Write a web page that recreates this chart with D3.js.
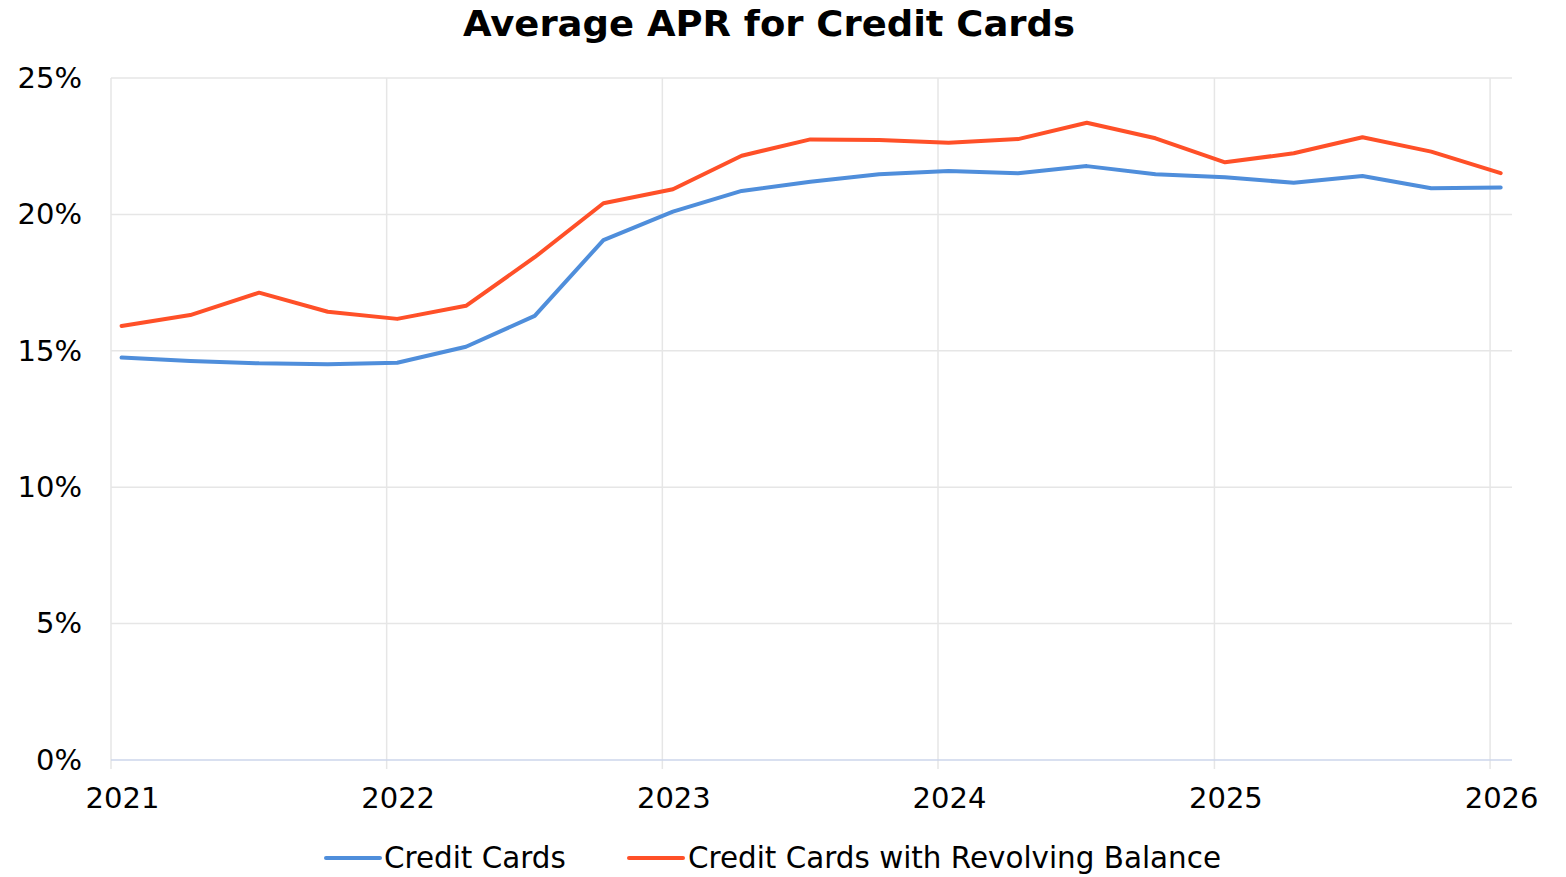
<!DOCTYPE html>
<html>
<head>
<meta charset="utf-8">
<script src="https://cdn.jsdelivr.net/npm/d3@7"></script>
<style>
  html, body { margin: 0; padding: 0; background: #fff; }
  svg { display: block; font-family: "DejaVu Sans", Verdana, sans-serif; }
</style>
</head>
<body>
<svg id="chart" width="1566" height="877"></svg>
<script>
const title = "Average APR for Credit Cards";
const dates = [
  "2021-01-15","2021-04-16","2021-07-16","2021-10-15",
  "2022-01-15","2022-04-16","2022-07-16","2022-10-15",
  "2023-01-15","2023-04-16","2023-07-16","2023-10-15",
  "2024-01-15","2024-04-16","2024-07-16","2024-10-15",
  "2025-01-15","2025-04-16","2025-07-16","2025-10-15",
  "2026-01-15"
];
const creditCards = [14.75,14.63,14.54,14.51,14.56,15.15,16.28,19.06,20.10,20.86,21.20,21.47,21.59,21.51,21.77,21.47,21.36,21.16,21.41,20.96,20.99];
const revolving = [15.91,16.31,17.13,16.43,16.17,16.65,18.43,20.41,20.92,22.15,22.75,22.73,22.63,22.76,23.36,22.79,21.91,22.24,22.83,22.30,21.51];
const seriesNames = ["Credit Cards", "Credit Cards with Revolving Balance"];
const seriesColors = ["#4f8edb", "#ff5028"];
const yTicks = [0, 5, 10, 15, 20, 25];
const xTickYears = [2021, 2022, 2023, 2024, 2025, 2026];

const svg = d3.select("#chart");
const W = 1566, H = 877;
const margin = {left: 111, right: 54, top: 78, bottom: 117};
const parse = d3.timeParse("%Y-%m-%d");

const x = d3.scaleTime()
  .domain([new Date(2021, 0, 1), new Date(2026, 0, 30)])
  .range([margin.left, W - margin.right]);
const y = d3.scaleLinear()
  .domain([0, 25])
  .range([H - margin.bottom, margin.top]);

// title
svg.append("text")
  .attr("x", 769).attr("y", 36)
  .attr("text-anchor", "middle")
  .attr("font-size", 35).attr("font-weight", "bold")
  .attr("textLength", 612).attr("lengthAdjust", "spacingAndGlyphs")
  .attr("fill", "#000")
  .text(title);

// horizontal grid
svg.append("g").selectAll("line").data(yTicks.filter(d => d > 0)).join("line")
  .attr("x1", margin.left).attr("x2", W - margin.right)
  .attr("y1", d => y(d)).attr("y2", d => y(d))
  .attr("stroke", "#e6e6e6").attr("stroke-width", 1.5);

// vertical grid
const xTickDates = xTickYears.map(yr => new Date(yr, 0, 1));
svg.append("g").selectAll("line").data(xTickDates).join("line")
  .attr("x1", d => x(d)).attr("x2", d => x(d))
  .attr("y1", margin.top).attr("y2", H - margin.bottom + 9)
  .attr("stroke", "#e6e6e6").attr("stroke-width", 1.5);

// x axis line
svg.append("line")
  .attr("x1", margin.left).attr("x2", W - margin.right)
  .attr("y1", y(0)).attr("y2", y(0))
  .attr("stroke", "#ccd6eb").attr("stroke-width", 1.5);

// y axis labels
const yAxis = d3.axisLeft(y).tickValues(yTicks).tickSize(0).tickFormat(d => d + "%").tickPadding(0);
const yg = svg.append("g").attr("transform", `translate(${margin.left - 29},0)`).call(yAxis);
yg.select(".domain").remove();
yg.selectAll("text").attr("font-size", 29).attr("fill", "#000")
  .attr("font-family", "DejaVu Sans, Verdana, sans-serif");

// x axis labels
const xAxis = d3.axisBottom(x).tickValues(xTickDates).tickSize(0).tickFormat(d3.timeFormat("%Y")).tickPadding(0);
const xg = svg.append("g").attr("transform", `translate(11,${y(0) + 27})`).call(xAxis);
xg.select(".domain").remove();
xg.selectAll("text").attr("font-size", 29).attr("fill", "#000")
  .attr("font-family", "DejaVu Sans, Verdana, sans-serif");

// lines
const line = d3.line().x(d => x(d[0])).y(d => y(d[1]));
const allSeries = [creditCards, revolving];
allSeries.forEach((vals, i) => {
  const pts = dates.map((d, j) => [parse(d), vals[j]]);
  svg.append("path").datum(pts)
    .attr("d", line)
    .attr("fill", "none")
    .attr("stroke", seriesColors[i])
    .attr("stroke-width", 4)
    .attr("stroke-linejoin", "round")
    .attr("stroke-linecap", "round");
});

// legend
const legendItems = [{sx: 326, tx: 384}, {sx: 629, tx: 688}];
legendItems.forEach((it, i) => {
  const g = svg.append("g");
  g.append("line")
    .attr("x1", it.sx).attr("x2", it.sx + 54)
    .attr("y1", 858).attr("y2", 858)
    .attr("stroke", seriesColors[i]).attr("stroke-width", 4)
    .attr("stroke-linecap", "round");
  g.append("text")
    .attr("x", it.tx).attr("y", 868)
    .attr("font-size", 29.4).attr("fill", "#000")
    .text(seriesNames[i]);
});
</script>
</body>
</html>
